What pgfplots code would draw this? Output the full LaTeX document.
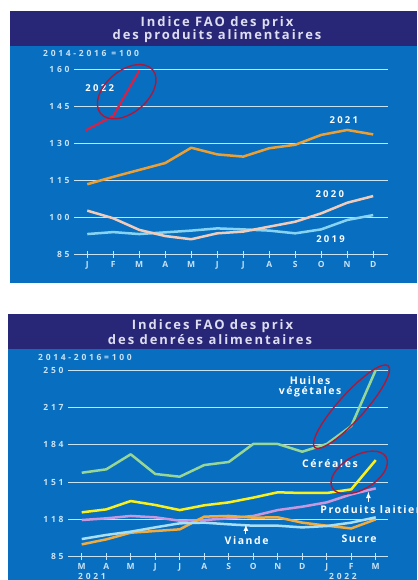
\documentclass[border=0pt]{standalone}
\usepackage{pgfplots}
\pgfplotsset{compat=1.18}
\usepackage{fontspec}
\setmainfont{Open Sans}
\newfontfamily\fwide[LetterSpace=15]{Open Sans}
\newfontfamily\fwider[LetterSpace=24]{Open Sans}
\newfontfamily\fwidest[LetterSpace=32]{Open Sans}
\definecolor{navy}{RGB}{40,38,118}
\definecolor{fond}{RGB}{8,110,192}
\definecolor{pale}{RGB}{200,226,246}
\definecolor{titre}{RGB}{222,222,242}
\definecolor{ovale}{RGB}{170,25,60}
\definecolor{rouge}{RGB}{228,28,62}
\definecolor{orange21}{RGB}{236,160,52}
\definecolor{peche}{RGB}{242,204,186}
\definecolor{cyan19}{RGB}{135,212,242}
\definecolor{huile}{RGB}{150,214,150}
\definecolor{cereale}{RGB}{250,240,30}
\definecolor{lait}{RGB}{200,152,222}
\definecolor{sucre}{RGB}{240,172,62}
\definecolor{viande}{RGB}{168,222,246}

\tikzset{
  lbl/.style={text=white, inner sep=0pt, font=\fwide\bfseries\fontsize{10.5}{11}\selectfont},
  an/.style={text=white, inner sep=0pt, font=\fwider\bfseries\fontsize{9.5}{10}\selectfont},
  petit/.style={text=pale, inner sep=0pt, font=\fwidest\bfseries\fontsize{8.5}{9}\selectfont},
  ttl/.style={text=titre, inner sep=0pt, font=\fwide\bfseries\fontsize{13}{14}\selectfont},
}
\pgfplotsset{fao/.style={
    scale only axis,
    clip=false,
    axis line style={draw=none},
    ymajorgrids,
    grid style={pale, line width=0.9pt},
    tick pos=left,
    xtick align=center,
    major tick length=7pt,
    xtick style={pale, line width=0.9pt},
    ytick style={draw=none},
    tick label style={pale, font=\fwidest\bfseries\fontsize{8.5}{9}\selectfont},
    yticklabel style={xshift=-1pt},
    /pgf/number format/assume math mode=true,
    every axis plot/.append style={line width=2.5pt, line join=round},
  }}

\begin{document}
\begin{tikzpicture}[x=1pt, y=1pt]
\begin{scope}
\clip (0,0) rectangle (417,580);

% panneau du haut
\fill[fond] (10,297.3) rectangle (417,534.3);
\fill[navy] (10,534.3) rectangle (417,569);
\node[ttl] at (217,556.6) {Indice FAO des prix};
\node[ttl] at (217,544.0) {des produits alimentaires};
\node[petit, anchor=west] at (43,527) {2014-2016 =100};

\begin{axis}[fao,
    at={(74pt,325.7pt)}, anchor=south west,
    width=314pt, height=185pt,
    xmin=0.49, xmax=12.57, ymin=85, ymax=160,
    ytick={85,100,115,130,145,160},
    xtick={1,...,12},
    xticklabels={J,F,M,A,M,J,J,A,S,O,N,D},
  ]
  \addplot[cyan19] coordinates {(1,93.2)(2,94.0)(3,93.2)(4,93.9)(5,94.6)(6,95.5)(7,95.1)(8,94.6)(9,93.5)(10,95.1)(11,98.9)(12,100.9)};
  \addplot[peche] coordinates {(1,102.7)(2,99.6)(3,94.9)(4,92.4)(5,91.1)(6,93.5)(7,94.2)(8,96.2)(9,98.2)(10,101.6)(11,105.9)(12,108.6)};
  \addplot[orange21] coordinates {(1,113.4)(2,116.4)(3,119.2)(4,122.0)(5,128.2)(6,125.5)(7,124.6)(8,128.0)(9,129.4)(10,133.4)(11,135.4)(12,133.6)};
  \addplot[rouge, line width=2pt] coordinates {(0.92,135.2)(2,141.1)(3,159.5)};
  \node[an] at (axis cs:1.48,152.3) {2022};
  \node[an] at (axis cs:10.87,139.5) {2021};
  \node[an] at (axis cs:10.33,109.5) {2020};
  \node[an] at (axis cs:10.36,91.1) {2019};
\end{axis}
\draw[ovale, line width=1.4pt, rotate around={40:(126.7,488.3)}] (126.7,488.3) ellipse [x radius=34, y radius=21];

% panneau du bas
\fill[fond] (8,0) rectangle (417,231);
\fill[navy] (8,231) rectangle (417,265.7);
\node[ttl] at (212.5,254.0) {Indices FAO des prix};
\node[ttl] at (210,240.0) {des denrées alimentaires};
\node[petit, anchor=west] at (38,222.3) {2014-2016=100};

\begin{axis}[fao,
    at={(68pt,23.3pt)}, anchor=south west,
    width=320pt, height=186.7pt,
    xmin=0.44, xmax=13.5, ymin=85, ymax=250,
    ytick={85,118,151,184,217,250},
    xtick={1,...,13},
    xticklabels={M,A,M,J,J,A,S,O,N,D,J,F,M},
  ]
  \addplot[huile] coordinates {(1,159.2)(2,162.2)(3,175.5)(4,158.1)(5,155.7)(6,166.0)(7,168.7)(8,184.6)(9,184.6)(10,177.8)(11,184.6)(12,200.5)(13,250)};
  \addplot[cereale] coordinates {(1,124.2)(2,126.8)(3,134.2)(4,130.7)(5,126.2)(6,130.4)(7,133.0)(8,137.2)(9,141.9)(10,141.3)(11,141.3)(12,144.5)(13,170.4)};
  \addplot[lait] coordinates {(1,117.4)(2,118.9)(3,121.0)(4,119.8)(5,116.8)(6,117.4)(7,118.9)(8,121.0)(9,126.2)(10,129.2)(11,133.0)(12,140.1)(13,145.4)};
  \addplot[sucre] coordinates {(1,95.9)(2,100.3)(3,106.2)(4,107.7)(5,109.2)(6,120.4)(7,121.0)(8,119.5)(9,119.8)(10,115.1)(11,112.4)(12,110.0)(13,118.0)};
  \addplot[viande] coordinates {(1,100.6)(2,104.2)(3,107.1)(4,110.9)(5,114.5)(6,115.1)(7,113.6)(8,112.4)(9,112.4)(10,110.9)(11,112.1)(12,115.1)(13,119.8)};
  \node[lbl] at (axis cs:10.32,240.6) {Huiles};
  \node[lbl] at (axis cs:10.32,230.6) {végétales};
  \node[lbl] at (axis cs:11.13,166.9) {Céréales};
  \node[lbl, anchor=west] at (axis cs:10.73,126.8) {Produits laitiers};
  \node[lbl] at (axis cs:7.73,99.7) {Viande};
  \node[lbl] at (axis cs:12.32,101.2) {Sucre};
  \draw[white, line width=1.2pt, -latex] (axis cs:12.7,133.4) -- (axis cs:12.7,142.4);
  \draw[white, line width=1.2pt, -latex] (axis cs:7.7,104.8) -- (axis cs:7.7,113.4);
\end{axis}
\node[petit, anchor=north] at (92,7) {2021};
\node[petit, anchor=north] at (343,7) {2022};
\draw[ovale, line width=1.4pt, rotate around={48:(351.5,173.3)}] (351.5,173.3) ellipse [x radius=55, y radius=13];
\draw[ovale, line width=1.4pt, rotate around={30:(359.2,107.5)}] (359.2,107.5) ellipse [x radius=31, y radius=17];
\end{scope}
\pgfresetboundingbox
\useasboundingbox (0,0) rectangle (417,580);
\end{tikzpicture}
\end{document}
